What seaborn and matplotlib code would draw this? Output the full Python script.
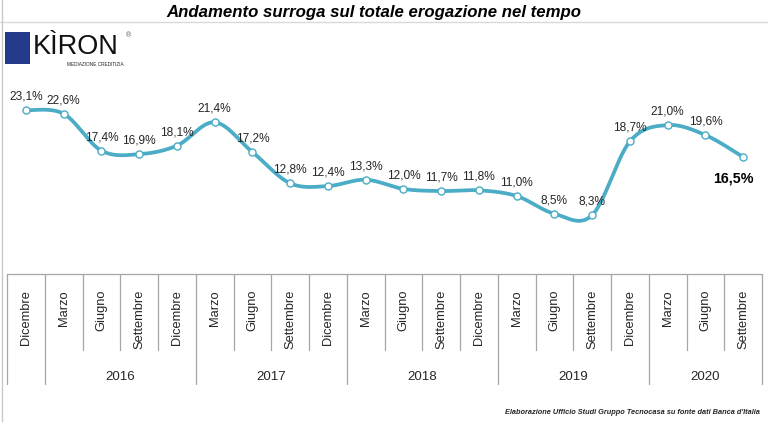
import numpy as np
import pandas as pd
import matplotlib
matplotlib.use("Agg")
import matplotlib.pyplot as plt
import seaborn as sns
from matplotlib.patches import Rectangle
from matplotlib.lines import Line2D
import matplotlib.transforms as mtransforms

# ---------------- data ----------------
months = ["Dicembre", "Marzo", "Giugno", "Settembre", "Dicembre",
          "Marzo", "Giugno", "Settembre", "Dicembre",
          "Marzo", "Giugno", "Settembre", "Dicembre",
          "Marzo", "Giugno", "Settembre", "Dicembre",
          "Marzo", "Giugno", "Settembre"]
years = ["", "2016", "2017", "2018", "2019", "2020"]
year_sizes = [1, 4, 4, 4, 4, 3]
values = [23.1, 22.6, 17.4, 16.9, 18.1, 21.4, 17.2, 12.8, 12.4, 13.3,
          12.0, 11.7, 11.8, 11.0, 8.5, 8.3, 18.7, 21.0, 19.6, 16.5]

title = "Andamento surroga sul totale erogazione nel tempo"
footer = "Elaborazione Ufficio Studi Gruppo Tecnocasa su fonte dati Banca d'Italia"

LINE = "#4BACC6"
TXT = "#262626"

sns.set_theme(style="white")
plt.rcParams['font.family'] = ['Liberation Sans', 'DejaVu Sans']

W, H = 768, 422
fig = plt.figure(figsize=(W / 100, H / 100), dpi=100)
fig.patch.set_facecolor("white")

ax_left, ax_right, ax_bottom_px, ax_top_px = 7, 762, 274, 61.3
ax = fig.add_axes([ax_left / W, (H - ax_bottom_px) / H,
                   (ax_right - ax_left) / W, (ax_bottom_px - ax_top_px) / H])

n = len(values)
df = pd.DataFrame({"pos": np.arange(n), "val": values, "month": months})

# smoothed line (Catmull-Rom style, like spreadsheet smoothing)
pts = np.column_stack([df["pos"].values, df["val"].values]).astype(float)
tt = np.linspace(0, 1, 30)
sx, sy = [], []
for i in range(n - 1):
    p0 = pts[i - 1] if i > 0 else pts[i]
    p1 = pts[i]
    p2 = pts[i + 1]
    p3 = pts[i + 2] if i + 2 < n else pts[i + 1]
    c1 = p1 + (p2 - p0) / 6.0
    c2 = p2 - (p3 - p1) / 6.0
    for t in (tt if i == 0 else tt[1:]):
        b = ((1 - t) ** 3) * p1 + 3 * ((1 - t) ** 2) * t * c1 + 3 * (1 - t) * t * t * c2 + t ** 3 * p2
        sx.append(b[0]); sy.append(b[1])
smooth = pd.DataFrame({"x": sx, "y": sy})

sns.lineplot(data=smooth, x="x", y="y", ax=ax, color=LINE, lw=2.7,
             sort=False, estimator=None, zorder=2)
sns.scatterplot(data=df, x="pos", y="val", ax=ax, s=26, color="white",
                edgecolor=LINE, linewidth=1.0, zorder=3)

ax.set_xlim(-0.5, n - 0.5)
ax.set_ylim(0, 30)
ax.set_xlabel("")
ax.set_ylabel("")
ax.set_yticks([])
for s in ["left", "right", "top"]:
    ax.spines[s].set_visible(False)
ax.spines["bottom"].set_color("#a6a6a6")
ax.spines["bottom"].set_linewidth(0.9)

ax.set_xticks(df["pos"])
ax.set_xticklabels(months, rotation=90, fontsize=9.3, color=TXT)
ax.tick_params(axis="x", length=0, pad=11.5)

# data labels
for i, (p, v) in enumerate(zip(df["pos"], df["val"])):
    lab = f"{v:.1f}%".replace(".", ",")
    if i == n - 1:
        ax.annotate(lab, (p, v), xytext=(-10, -21), textcoords="offset pixels",
                    ha="center", va="center", fontsize=10.3, fontweight="bold",
                    color="black")
    else:
        ax.annotate(lab, (p, v), xytext=(0, 13.5), textcoords="offset pixels",
                    ha="center", va="center", fontsize=8.6, color=TXT)

# category separators and year groups
ax_h_px = ax_bottom_px - ax_top_px
short_y = -(350 - ax_bottom_px) / ax_h_px
tall_y = -(384 - ax_bottom_px) / ax_h_px
year_y = -(377 - ax_bottom_px) / ax_h_px
trans = mtransforms.blended_transform_factory(ax.transData, ax.transAxes)
bounds = np.cumsum([0] + year_sizes)
for k in range(n + 1):
    yb = tall_y if k in bounds else short_y
    ax.add_line(Line2D([k - 0.5, k - 0.5], [0, yb], transform=trans,
                       color="#a6a6a6", lw=0.9, clip_on=False))
for yl, a, b in zip(years, bounds[:-1], bounds[1:]):
    if yl:
        ax.text((a + b - 1) / 2.0, year_y, yl, transform=trans, ha="center",
                va="center", fontsize=9.6, color=TXT)

# title
fig.text(374 / W, 1 - 12 / H, title, ha="center", va="center", fontsize=12.1,
         fontweight="bold", fontstyle="italic", color="black")

# footer
fig.text(760 / W, 1 - 413 / H, footer, ha="right", va="center", fontsize=5.3,
         fontweight="bold", fontstyle="italic", color=TXT)

# frame lines
fig.add_artist(Line2D([0, 1], [1 - 22 / H, 1 - 22 / H], transform=fig.transFigure,
                      color="#d9d9d9", lw=1))
fig.add_artist(Line2D([1.5 / W, 1.5 / W], [0, 1], transform=fig.transFigure,
                      color="#c8c8c8", lw=1))

# logo
fig.add_artist(Rectangle((5 / W, 1 - 64 / H), 25 / W, 32 / H,
                         transform=fig.transFigure, facecolor="#233a8b",
                         edgecolor="none"))
fig.text(33 / W, 1 - 47 / H, "KÌRON", ha="left", va="center", fontsize=19.5,
         color="#111111", family=["Liberation Sans", "DejaVu Sans"])
fig.text(128 / W, 1 - 36 / H, "®", ha="center", va="center", fontsize=5,
         color="#555555")
fig.text(95 / W, 1 - 65 / H, "MEDIAZIONE CREDITIZIA", ha="center", va="center",
         fontsize=3.4, color="#222222")

fig.savefig("out.png", dpi=100, facecolor="white")
